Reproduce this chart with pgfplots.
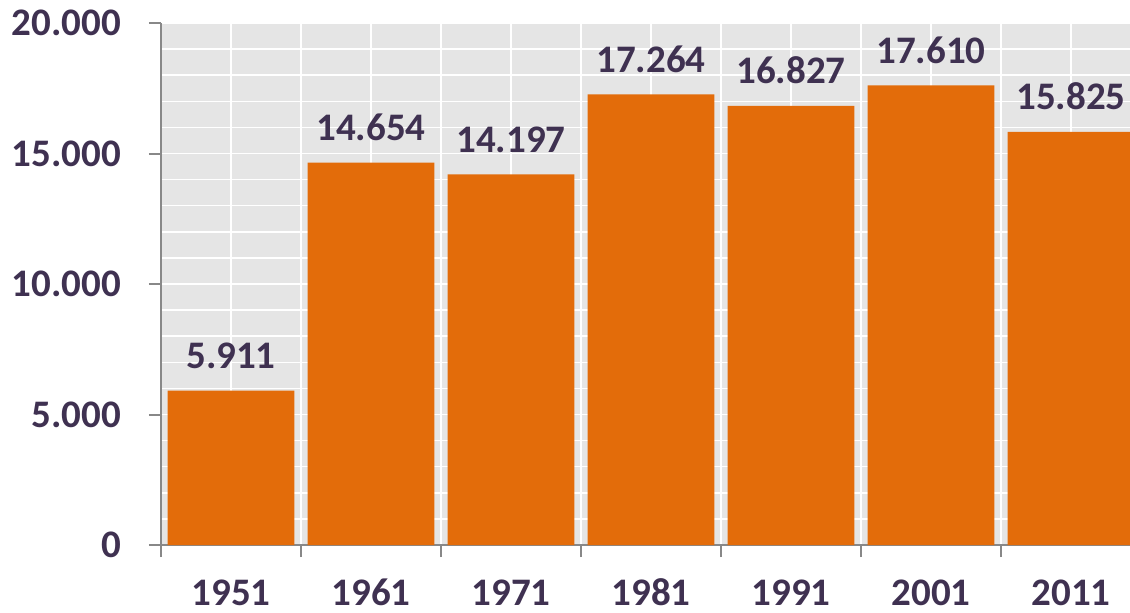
\documentclass[border=0pt]{standalone}
\usepackage{pgfplots}
\pgfplotsset{compat=1.18}
\usepackage{fontspec}
\setmainfont{Carlito}
\definecolor{barorange}{HTML}{E36C0A}
\definecolor{labelpurple}{HTML}{3F3151}
\definecolor{plotbg}{HTML}{E5E5E5}
\definecolor{axisgray}{HTML}{888888}
\newcommand{\lblfont}{\fontsize{19.5}{23}\selectfont\bfseries}

\begin{document}
\begin{tikzpicture}
\begin{axis}[
  scale only axis,
  width=484.5pt, height=261pt,
  ybar, bar width=0.907,
  xmin=-0.5, xmax=6.4214,
  ymin=0, ymax=20000,
  enlargelimits=false,
  scaled y ticks=false,
  axis lines*=left,
  axis line style={axisgray, line width=1pt},
  axis background/.style={fill=plotbg},
  xtick={0,...,6},
  xticklabels={1951,1961,1971,1981,1991,2001,2011},
  minor xtick={-0.5,0.5,...,6.5},
  ytick={0,5000,...,20000},
  minor ytick={0,1000,...,20000},
  grid=both,
  major grid style={white, line width=0.75pt},
  minor grid style={white, line width=0.75pt},
  tick align=outside,
  major tick length=6pt,
  minor tick length=6pt,
  tick style={axisgray, line width=1pt},
  major x tick style={draw=none},
  minor y tick style={draw=none},
  /pgf/number format/1000 sep={.},
  /pgf/number format/assume math mode=true,
  ticklabel style={font=\lblfont, text=labelpurple},
  yticklabel style={xshift=-10.5pt},
  xticklabel style={anchor=base, inner sep=0pt, yshift=-24pt},
  nodes near coords,
  nodes near coords style={font=\lblfont, text=labelpurple, yshift=7.5pt},
]
\addplot[draw=none, fill=barorange] coordinates {
  (0,5911) (1,14654) (2,14197) (3,17264) (4,16827) (5,17610) (6,15825)
};
\end{axis}
\pgfresetboundingbox
\path (-80.5pt,-33.5pt) rectangle (484.5pt,272.5pt);
\end{tikzpicture}
\end{document}
